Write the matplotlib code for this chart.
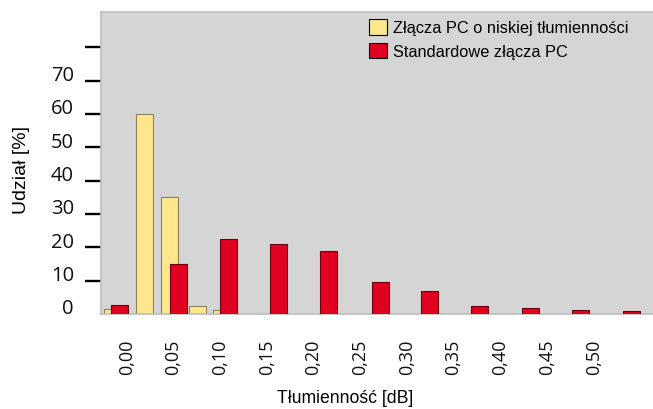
"""
Rozkład tłumienności złączy PC - wykres słupkowy
"""

import numpy as np
import matplotlib
matplotlib.use('Agg')
import matplotlib.pyplot as plt
from matplotlib.transforms import ScaledTranslation

plt.rcParams['font.family'] = ['Liberation Sans', 'DejaVu Sans']

# dane (położenia słupków w dB, udział w %)
low_x = [-0.0155, 0.016, 0.041, 0.069, 0.0935]
low_vals = [1.5, 60, 35, 2.3, 1.2]

std_x = [-0.0085, 0.05, 0.10, 0.15, 0.20, 0.252, 0.302, 0.352, 0.402, 0.452, 0.503]
std_vals = [2.7, 15, 22.5, 21, 19, 9.6, 6.8, 2.4, 1.8, 1.2, 0.8]

tick_pos = [i * 0.0467 - 0.0013 for i in range(11)]
tick_labels = ['0,00', '0,05', '0,10', '0,15', '0,20', '0,25',
               '0,30', '0,35', '0,40', '0,45', '0,50']

y_ticks = [0, 10, 20, 30, 40, 50, 60, 70, 80]
y_labels = ['0', '10', '20', '30', '40', '50', '60', '70', '']

fig = plt.figure(figsize=(6.53, 4.10), dpi=100)
ax = fig.add_axes([101 / 653, 95 / 410, 552 / 653, 302 / 410])
ax.set_facecolor('#d5d5d5')

w = 0.017
ax.bar(low_x, low_vals, width=w, color='#fde68b', edgecolor='#8c8060',
       linewidth=0.8, label='Złącza PC o niskiej tłumienności', zorder=2)
ax.bar(std_x, std_vals, width=w, color='#e00020', edgecolor='#6e0010',
       linewidth=0.8, label='Standardowe złącza PC', zorder=3)

ax.set_xlim(-0.027, 0.525)
ax.set_ylim(0, 90.6)

ax.set_xticks(tick_pos)
ax.set_xticklabels(tick_labels, rotation=90, fontsize=13, family='Open Sans',
                   color='#111111')
ax.tick_params(axis='x', length=0, pad=18)

ax.set_yticks(y_ticks)
ax.set_yticklabels(y_labels, fontsize=14.5, family='Open Sans', color='#111111')
ax.tick_params(axis='y', length=11.5, width=1.7, pad=8, color='black')
ax.yaxis.get_major_ticks()[0].tick1line.set_visible(False)
shift = ScaledTranslation(0, 8 / 100, fig.dpi_scale_trans)
for lab in ax.get_yticklabels():
    lab.set_transform(lab.get_transform() + shift)

for side in ['top', 'left', 'bottom']:
    ax.spines[side].set_color('#bdbdbd')
    ax.spines[side].set_linewidth(1.2)
ax.spines['right'].set_visible(False)

ax.set_ylabel('Udział [%]', fontsize=14)
ax.yaxis.set_label_coords(-0.128, 0.48)
ax.set_xlabel('Tłumienność [dB]', fontsize=12.7)
ax.xaxis.set_label_coords(0.442, -0.25)

leg = ax.legend(loc='upper left', bbox_to_anchor=(0.4855, 0.977),
                frameon=False, fontsize=11.8, borderpad=0, borderaxespad=0,
                handlelength=1.1, handleheight=1.1, handletextpad=0.35,
                labelspacing=0.45)
for h in leg.legend_handles:
    h.set_edgecolor('black')

fig.savefig('out.png', dpi=100)
plt.close(fig)
